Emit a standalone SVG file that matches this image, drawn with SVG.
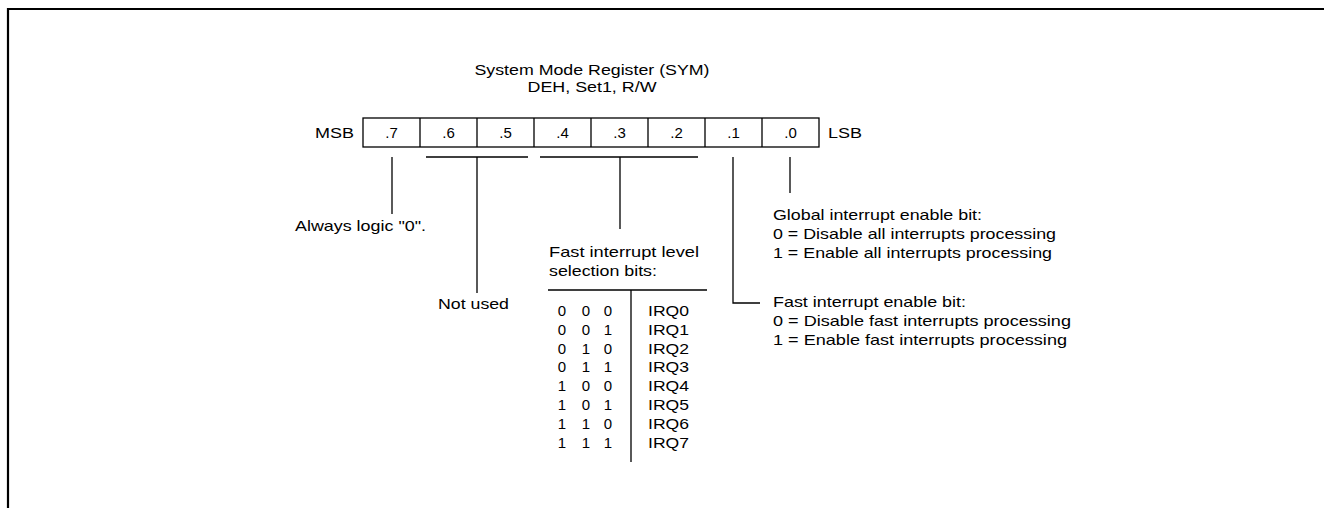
<svg xmlns="http://www.w3.org/2000/svg" width="1324" height="508" viewBox="0 0 1324 508">
<style>
text{font-family:"Liberation Sans",Arial,sans-serif;font-size:15px;fill:#000}
.c{text-anchor:middle}
.e{text-anchor:end}
.ln{stroke:#000;stroke-width:1.3;fill:none}
.cell{stroke:#000;stroke-width:1.3;fill:#fff}
</style>
<rect width="1324" height="508" fill="#fff"/>
<path d="M8,508 V9 H1324" fill="none" stroke="#000" stroke-width="2.2"/>
<g id="title">
<text class="c" x="592" y="75" textLength="235" lengthAdjust="spacingAndGlyphs">System Mode Register (SYM)</text>
<text class="c" x="592" y="92" textLength="129" lengthAdjust="spacingAndGlyphs">DEH, Set1, R/W</text>
</g>
<g id="register">
<text class="e" x="354" y="138" textLength="39" lengthAdjust="spacingAndGlyphs">MSB</text>
<text x="828" y="138" textLength="34" lengthAdjust="spacingAndGlyphs">LSB</text>
<rect class="cell" x="363" y="118" width="456" height="29"/>
<path class="ln" d="M420,118V147M477,118V147M534,118V147M591,118V147M648,118V147M705,118V147M762,118V147"/>
<text class="c" x="391.5" y="138">.7</text>
<text class="c" x="448.5" y="138">.6</text>
<text class="c" x="505.5" y="138">.5</text>
<text class="c" x="562.5" y="138">.4</text>
<text class="c" x="619.5" y="138">.3</text>
<text class="c" x="676.5" y="138">.2</text>
<text class="c" x="733.5" y="138">.1</text>
<text class="c" x="790.5" y="138">.0</text>
</g>
<g id="connectors">
<path class="ln" d="M392,157V214"/>
<path class="ln" d="M426,157H528M477,157V293"/>
<path class="ln" d="M540,157H698M620,157V229"/>
<path class="ln" d="M733,157V303H760"/>
<path class="ln" d="M790,157V193"/>
</g>
<g id="bit7">
<text x="295" y="231" textLength="131" lengthAdjust="spacingAndGlyphs">Always logic "0".</text>
</g>
<g id="bit65">
<text x="438" y="309" textLength="71" lengthAdjust="spacingAndGlyphs">Not used</text>
</g>
<g id="bit42">
<text x="549" y="257" textLength="150" lengthAdjust="spacingAndGlyphs">Fast interrupt level</text>
<text x="549" y="276" textLength="108" lengthAdjust="spacingAndGlyphs">selection bits:</text>
<path class="ln" d="M548,290H707M631,290V462"/>
<g class="rows">
<text class="c" x="562 586 608" y="316">000</text>
<text class="c" x="562 586 608" y="334.8">001</text>
<text class="c" x="562 586 608" y="353.6">010</text>
<text class="c" x="562 586 608" y="372.4">011</text>
<text class="c" x="562 586 608" y="391.2">100</text>
<text class="c" x="562 586 608" y="410">101</text>
<text class="c" x="562 586 608" y="428.8">110</text>
<text class="c" x="562 586 608" y="447.6">111</text>
<text x="648" y="316" textLength="41" lengthAdjust="spacingAndGlyphs">IRQ0</text>
<text x="648" y="334.8" textLength="41" lengthAdjust="spacingAndGlyphs">IRQ1</text>
<text x="648" y="353.6" textLength="41" lengthAdjust="spacingAndGlyphs">IRQ2</text>
<text x="648" y="372.4" textLength="41" lengthAdjust="spacingAndGlyphs">IRQ3</text>
<text x="648" y="391.2" textLength="41" lengthAdjust="spacingAndGlyphs">IRQ4</text>
<text x="648" y="410" textLength="41" lengthAdjust="spacingAndGlyphs">IRQ5</text>
<text x="648" y="428.8" textLength="41" lengthAdjust="spacingAndGlyphs">IRQ6</text>
<text x="648" y="447.6" textLength="41" lengthAdjust="spacingAndGlyphs">IRQ7</text>
</g>
</g>
<g id="bit1">
<text x="773" y="307" textLength="193" lengthAdjust="spacingAndGlyphs">Fast interrupt enable bit:</text>
<text x="773" y="326" textLength="298" lengthAdjust="spacingAndGlyphs">0 = Disable fast interrupts processing</text>
<text x="773" y="345" textLength="294" lengthAdjust="spacingAndGlyphs">1 = Enable fast interrupts processing</text>
</g>
<g id="bit0">
<text x="773" y="220" textLength="209" lengthAdjust="spacingAndGlyphs">Global interrupt enable bit:</text>
<text x="773" y="239" textLength="283" lengthAdjust="spacingAndGlyphs">0 = Disable all interrupts processing</text>
<text x="773" y="258" textLength="279" lengthAdjust="spacingAndGlyphs">1 = Enable all interrupts processing</text>
</g>
</svg>
